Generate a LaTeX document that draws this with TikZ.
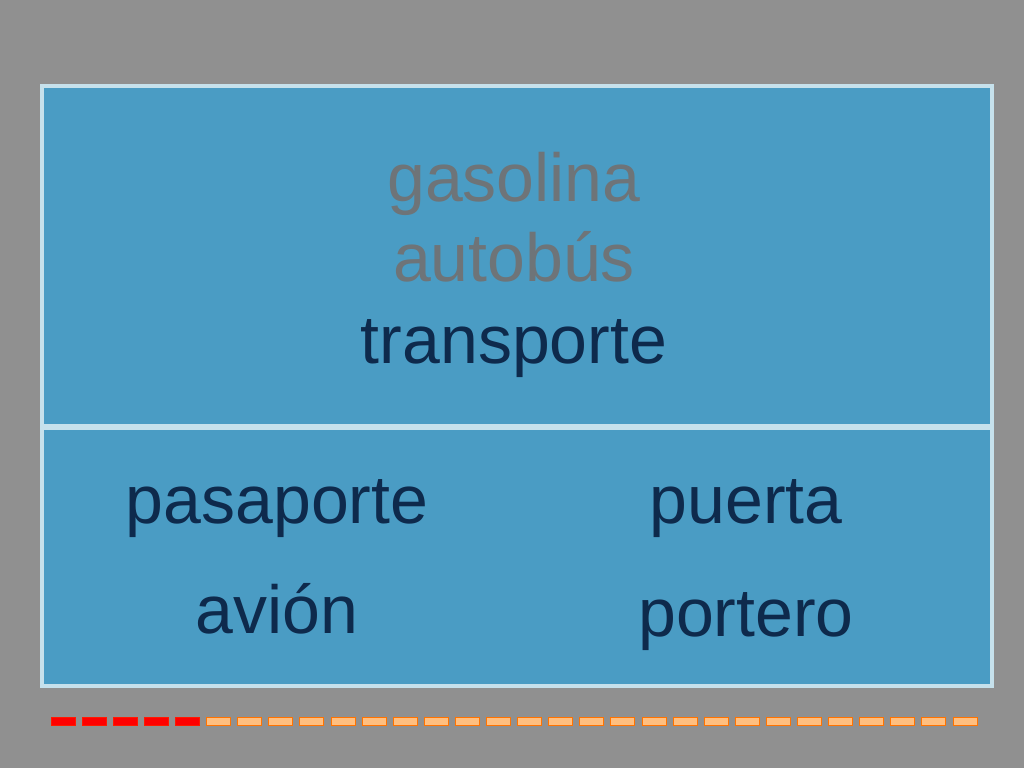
\documentclass[tikz,border=0pt]{standalone}
\usepackage{fontspec}
\setmainfont{Liberation Sans}
\begin{document}
\begin{tikzpicture}[x=1pt,y=-1pt,
  panel/.style={draw=cyan!20!white!85!gray, line width=4pt, fill=boxblue},
  word/.style={font=\fontsize{68}{72}\selectfont, text=darknavy, inner sep=0pt, anchor=base},
  faded/.style={word, text=fadegray},
  reddash/.style={fill=red, draw=red!80!orange, line width=0.8pt},
  orangedash/.style={fill=orange!50!white, draw=orange!90!red, line width=0.8pt}]
\definecolor{boxblue}{HTML}{4A9CC4}
\definecolor{darknavy}{HTML}{0E2A4C}
\definecolor{fadegray}{HTML}{6E7478}
\useasboundingbox (0,0) rectangle (1024,768);
\fill[fill={rgb,255:red,144;green,144;blue,144}] (0,0) rectangle (1024,768);
\node[panel, minimum width=950, minimum height=340, inner sep=0pt, anchor=north west] (top) at (40,84) {};
\node[panel, minimum width=950, minimum height=258, inner sep=0pt, anchor=north west] (bot) at (40,426) {};
\node[faded] (g) at (514,201) {gasolina};
\node[faded] (a) at (514,281) {autobús};
\node[word] (t) at (514,363) {transporte};
\node[word] (p1) at (277,523) {pasaporte};
\node[word] (p2) at (746,523) {puerta};
\node[word] (av) at (277,633) {avión};
\node[word] (po) at (746,636) {portero};
\foreach \i in {0,...,29}{
  \ifnum\i<5
    \path[reddash] ({51+\i*31.1},717) rectangle ({51+\i*31.1+24},725);
  \else
    \path[orangedash] ({51+\i*31.1},717) rectangle ({51+\i*31.1+24},725);
  \fi}
\end{tikzpicture}
\end{document}
